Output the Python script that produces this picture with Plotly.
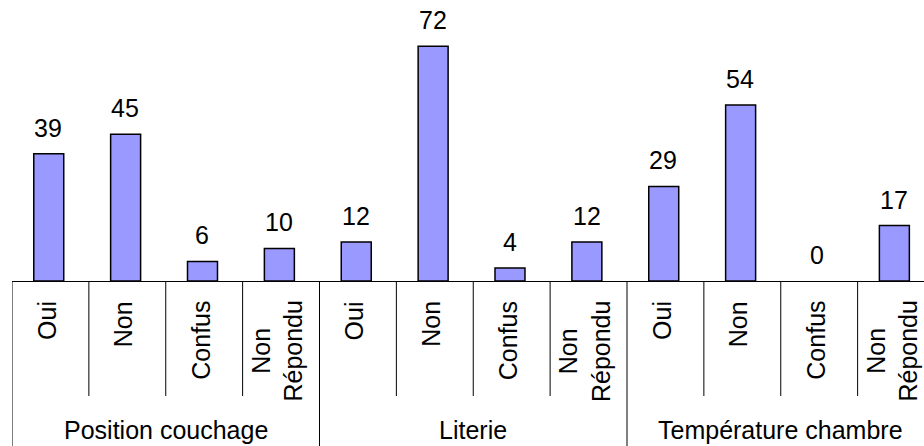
import plotly.graph_objects as go

groups = ["Position couchage", "Literie", "Température chambre"]
responses = ["Oui", "Non", "Confus", "Non<br>Répondu"]
values_position = [39, 45, 6, 10]
values_literie = [12, 72, 4, 12]
values_temperature = [29, 54, 0, 17]

values = values_position + values_literie + values_temperature
n_resp = len(responses)
n = len(values)
xs = list(range(n))

FONT = "Liberation Sans, Arial, sans-serif"
W, H = 924, 446
AXIS_PX = 281          # pixel row of the category axis
PX_PER_UNIT = 3.26
CAT_PX = 76.9
LEFT_PX = 11.7
FS = 25
BAR_W = 0.39

def py(pix):
    """pixel row -> paper y"""
    return (AXIS_PX - pix) / AXIS_PX

fig = go.Figure()
fig.add_trace(go.Bar(
    x=xs, y=values, width=BAR_W, offset=-BAR_W / 2 - 0.022,
    marker=dict(color="#9999FF",
                line=dict(color="black",
                          width=[1.5 if v > 0 else 0 for v in values])),
    hoverinfo="skip",
))

annotations = []
for x, v in zip(xs, values):
    annotations.append(dict(x=x, y=v, xref="x", yref="y", text=str(v),
                            showarrow=False, yanchor="bottom", yshift=10,
                            xshift=-2,
                            font=dict(family=FONT, size=FS, color="black")))
for x in xs:
    annotations.append(dict(x=x, y=py(299), xref="x", yref="paper",
                            text=responses[x % n_resp], textangle=-90,
                            showarrow=False, xanchor="center", yanchor="top",
                            align="center", xshift=-4,
                            font=dict(family=FONT, size=FS, color="black")))
for g, name in enumerate(groups):
    annotations.append(dict(x=g * n_resp + (n_resp - 1) / 2, y=py(430),
                            xref="x", yref="paper", text=name,
                            showarrow=False, xanchor="center", yanchor="middle",
                            font=dict(family=FONT, size=FS, color="black")))

shapes = []
for k in range(n + 1):
    is_group = (k % n_resp == 0)
    bottom = py(H + 4) if is_group else py(396)
    shapes.append(dict(type="line", xref="x", yref="paper",
                       x0=k - 0.5, x1=k - 0.5, y0=0, y1=bottom,
                       line=dict(color="black", width=1)))

plot_w = W - LEFT_PX
x_max = -0.5 + plot_w / CAT_PX

fig.update_layout(
    width=W, height=H,
    margin=dict(l=LEFT_PX, r=0, t=0, b=H - AXIS_PX, pad=0),
    paper_bgcolor="white", plot_bgcolor="white",
    showlegend=False,
    bargap=0,
    hovermode=False,
    xaxis=dict(range=[-0.5, x_max], showgrid=False, zeroline=False,
               showticklabels=False, ticks="", showline=True,
               linecolor="black", linewidth=1, fixedrange=True),
    yaxis=dict(range=[0, AXIS_PX / PX_PER_UNIT], visible=False,
               showgrid=False, zeroline=False, fixedrange=True),
    annotations=annotations,
    shapes=shapes,
)

fig.write_html(
    "out.html",
    config={"displayModeBar": False, "staticPlot": True},
    post_script="document.body.style.margin='0';document.body.style.overflow='hidden';",
)
